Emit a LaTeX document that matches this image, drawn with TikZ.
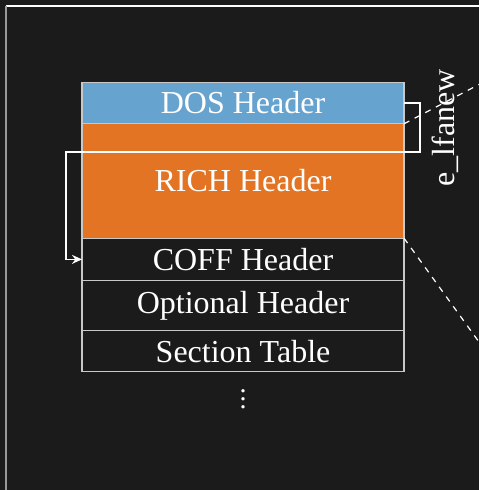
\documentclass[tikz,border=0pt]{standalone}
\usepackage{fontspec}
\setmainfont{Liberation Serif}
\usetikzlibrary{positioning,arrows.meta}

\definecolor{bgdark}{HTML}{1B1B1B}
\definecolor{dosblue}{HTML}{66A3CF}
\definecolor{richorange}{HTML}{E37423}
\definecolor{rimgray}{HTML}{C8C8C8}

\begin{document}
\begin{tikzpicture}[x=0.5pt, y=-0.5pt,
    hdr/.style={draw=rimgray, line width=0.6pt, minimum width=161pt,
        inner sep=0pt, outer sep=0pt, text=white,
        font=\fontsize{16}{18}\selectfont},
    zoomline/.style={white, dashed, line width=0.6pt},
    jump/.style={white, line width=0.8pt, -{Stealth[length=5pt,width=4.5pt]}}
]
    % Hintergrund und Rahmen
    \fill[bgdark] (0,0) rectangle (479,490);
    \useasboundingbox (0,0) rectangle (479,490);
    \draw[white, line width=0.8pt] (6,6) -- (479,6);
    \draw[gray!80, line width=1pt] (6,6) -- (6,490);
    % Header-Stapel
    \node[hdr, fill=dosblue, minimum height=20.8pt] (dos) at (243,103) {DOS Header};
    \node[hdr, fill=richorange, minimum height=57.2pt, below=0pt of dos] (rich) {RICH Header};
    \node[hdr, fill=bgdark, minimum height=21.2pt, below=0pt of rich] (coff) {COFF Header};
    \node[hdr, fill=bgdark, minimum height=25pt, below=0pt of coff] (opt) {Optional Header};
    \node[hdr, fill=bgdark, minimum height=20.5pt, below=0pt of opt] (sect) {Section Table};
    \node[text=white, font=\fontsize{14}{16}\selectfont] (dots) at (243,393) {$\vdots$};
    % Zeiger e_lfanew
    \coordinate (loopleft) at (66,152.3);
    \draw[jump] (dos.east) -- ++(16,0) |- (loopleft) |- (coff.west);
    \node[rotate=90, text=white, font=\fontsize{16}{18}\selectfont] (lfanew) at (445,128) {e\_lfanew};
    % Zoom-Linien
    \coordinate (zoomtop) at (479,84.5);
    \coordinate (zoombot) at (479,342);
    \draw[zoomline] (rich.north east) -- (zoomtop);
    \draw[zoomline] (coff.north east) -- (zoombot);
\end{tikzpicture}
\end{document}
